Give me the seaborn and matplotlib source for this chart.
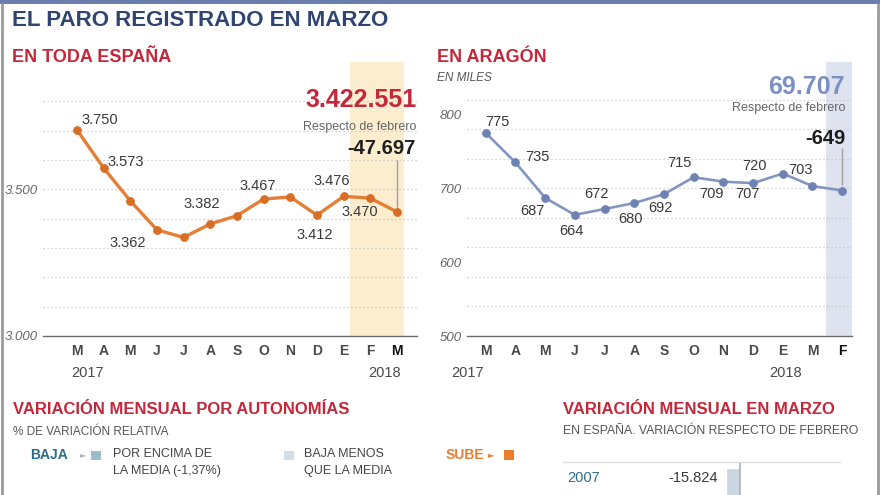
import matplotlib
matplotlib.use("Agg")
import matplotlib.pyplot as plt
import seaborn as sns
import pandas as pd
from matplotlib.patches import Rectangle
from matplotlib.lines import Line2D

# ---------------- data ----------------
months_espana = ["M", "A", "M", "J", "J", "A", "S", "O", "N", "D", "E", "F", "M"]
paro_espana = [3703, 3573, 3461, 3362, 3336, 3382, 3410, 3467, 3474, 3412, 3476, 3470, 3423]
labels_espana = ["3.750", "3.573", None, "3.362", None, "3.382", None, "3.467", None,
                 "3.412", "3.476", "3.470", None]
yticks_espana = [3000, 3500]
ytick_labels_espana = ["3.000", "3.500"]

months_aragon = ["M", "A", "M", "J", "J", "A", "S", "O", "N", "D", "E", "M", "F"]
paro_aragon = [775, 735, 687, 664, 672, 680, 692, 715, 709, 707, 720, 703, 697]
labels_aragon = ["775", "735", "687", "664", "672", "680", "692", "715", "709", "707",
                 "720", "703", None]
yticks_aragon = [500, 600, 700, 800]

total_espana = "3.422.551"
var_espana = "-47.697"
total_aragon = "69.707"
var_aragon = "-649"
media_autonomias = "-1,37%"

marzo_years = ["2007"]
marzo_var = [-15824]

# --------------- styles ---------------
offs_espana = [(5, 10, "left"), (4, 6, "left"), None, (-29, -13, "center"), None,
               (-9, 20, "center"), None, (-6, 13, "center"), None, (-2, -20, "center"),
               (-12, 15, "center"), (-11, -14, "center"), None]
offs_aragon = [(12, 11), (22, 5), (-13, -13), (-3, -16), (-8, 15), (-4, -16), (-4, -14),
               (-14, 14), (-12, -12), (-6, -11), (-28, 8), (-12, 16), None]

RED = "#c4263a"
NAVY = "#2f4470"
ORANGE = "#e47f35"
ORANGE_D = "#d86d25"
BLUE = "#8296c2"
BLUE_D = "#6f83b2"
TEAL = "#2b6d8c"
GRID = "#c4c4c4"
TXT = "#3a3a3a"

sns.set_theme(style="white")
plt.rcParams["font.family"] = ["Liberation Sans", "DejaVu Sans"]

W, H = 880, 495
fig = plt.figure(figsize=(W / 100, H / 100), dpi=100)
fig.patch.set_facecolor("white")


def fx(x):
    return x / W


def fy(y):
    return 1 - y / H


def ftext(x, y, s, **kw):
    kw.setdefault("va", "center")
    fig.text(fx(x), fy(y), s, **kw)


# frame
fig.add_artist(Rectangle((0, fy(4)), 1, 4 / H, color="#6a7eae", transform=fig.transFigure, lw=0))
fig.add_artist(Line2D([fx(2), fx(2)], [0, fy(4)], color="#9a9a9a", lw=2, transform=fig.transFigure))
fig.add_artist(Line2D([fx(878), fx(878)], [0, fy(4)], color="#9a9a9a", lw=2, transform=fig.transFigure))

# titles
ftext(12, 20, "EL PARO REGISTRADO EN MARZO", fontsize=16, fontweight="bold", color=NAVY)
ftext(12, 57, "EN TODA ESPAÑA", fontsize=13, fontweight="bold", color=RED)
ftext(437, 58, "EN ARAGÓN", fontsize=13, fontweight="bold", color=RED)
ftext(437, 78, "EN MILES", fontsize=8.5, fontstyle="italic", color="#555555")


def style_axes(ax, months, last_color):
    for s in ["top", "right", "left"]:
        ax.spines[s].set_visible(False)
    ax.spines["bottom"].set_color("#6a6a6a")
    ax.spines["bottom"].set_linewidth(1.0)
    ax.set_xticks(range(len(months)))
    ax.set_xticklabels(months, fontsize=10, fontweight="bold", color="#4a4a4a")
    ax.get_xticklabels()[-1].set_color(last_color)
    ax.tick_params(axis="x", length=0, pad=6)
    ax.tick_params(axis="y", length=0, pad=4)
    for t in ax.get_yticklabels():
        t.set_fontstyle("italic")
        t.set_fontsize(9.5)
        t.set_color("#666666")
    ax.set_xlabel("")
    ax.set_ylabel("")
    ax.set_facecolor("none")


# ---------------- left chart ----------------
ax1 = fig.add_axes([fx(43), fy(336), 374 / W, 274 / H])
df1 = pd.DataFrame({"idx": range(len(paro_espana)), "v": paro_espana})
ax1.axvspan(10.25, 12.25, color="#fcedcf", lw=0, zorder=0)
for v in range(3100, 3900, 100):
    ax1.axhline(v, color=GRID, lw=0.9, ls=(0, (1, 2.2)), zorder=1)
sns.lineplot(data=df1, x="idx", y="v", ax=ax1, color=ORANGE, lw=2.4, marker="o",
             markersize=5.5, markerfacecolor=ORANGE_D, markeredgecolor=ORANGE_D, zorder=3)
ax1.set_xlim(-1.27, 12.75)
ax1.set_ylim(3000, 3934)
ax1.set_yticks(yticks_espana)
ax1.set_yticklabels(ytick_labels_espana)
style_axes(ax1, months_espana, "#111111")
for i, (lab, off) in enumerate(zip(labels_espana, offs_espana)):
    if lab is None:
        continue
    ax1.annotate(lab, xy=(i, paro_espana[i]), xytext=(off[0], off[1]),
                 textcoords="offset pixels", ha=off[2], va="center",
                 fontsize=10.5, color=TXT, zorder=4)
ax1.vlines(len(paro_espana) - 1, paro_espana[-1] + 12, 3600, color="#a0a0a0", lw=1, zorder=2)
ax1.text(0.41, -0.135, "2017", transform=ax1.get_xaxis_transform(), ha="center", va="center",
         fontsize=10.5, color="#4a4a4a")
ax1.text(11.55, -0.135, "2018", transform=ax1.get_xaxis_transform(), ha="center", va="center",
         fontsize=10.5, color="#4a4a4a")

ftext(417, 100, total_espana, fontsize=18, fontweight="bold", color=RED, ha="right")
ftext(416, 127, "Respecto de febrero", fontsize=9, color="#666666", ha="right")
ftext(416, 149, var_espana, fontsize=14.5, fontweight="bold", color="#1e1e1e", ha="right")

# ---------------- right chart ----------------
ax2 = fig.add_axes([fx(467), fy(336), 385 / W, 274 / H])
df2 = pd.DataFrame({"idx": range(len(paro_aragon)), "v": paro_aragon})
ax2.axvspan(11.44, 12.4, color="#dfe3ef", lw=0, zorder=0)
for v in range(540, 860, 40):
    ax2.axhline(v, color=GRID, lw=0.9, ls=(0, (1, 2.2)), zorder=1)
sns.lineplot(data=df2, x="idx", y="v", ax=ax2, color=BLUE, lw=1.9, marker="o",
             markersize=5.5, markerfacecolor=BLUE_D, markeredgecolor=BLUE_D, zorder=3)
ax2.set_xlim(-0.63, 12.33)
ax2.set_ylim(500, 871)
ax2.set_yticks(yticks_aragon)
ax2.set_yticklabels([str(v) for v in yticks_aragon])
style_axes(ax2, months_aragon, "#111111")
for i, (lab, off) in enumerate(zip(labels_aragon, offs_aragon)):
    if lab is None:
        continue
    ax2.annotate(lab, xy=(i, paro_aragon[i]), xytext=off, textcoords="offset pixels",
                 ha="center", va="center", fontsize=10.5, color=TXT, zorder=4)
ax2.vlines(len(paro_aragon) - 1, paro_aragon[-1] + 8, 755, color="#a0a0a0", lw=1, zorder=2)
ax2.text(-0.6, -0.135, "2017", transform=ax2.get_xaxis_transform(), ha="center", va="center",
         fontsize=10.5, color="#4a4a4a")
ax2.text(10.08, -0.135, "2018", transform=ax2.get_xaxis_transform(), ha="center", va="center",
         fontsize=10.5, color="#4a4a4a")

ftext(845, 87, total_aragon, fontsize=18, fontweight="bold", color="#7c91c2", ha="right")
ftext(845, 108, "Respecto de febrero", fontsize=9, color="#666666", ha="right")
ftext(845, 139, var_aragon, fontsize=14.5, fontweight="bold", color="#1e1e1e", ha="right")

# ---------------- bottom section ----------------
ftext(13, 410, "VARIACIÓN MENSUAL POR AUTONOMÍAS", fontsize=12, fontweight="bold", color=RED)
ftext(13, 432, "% DE VARIACIÓN RELATIVA", fontsize=8.5, color="#555555")
ftext(30, 455, "BAJA", fontsize=10, fontweight="bold", color=TEAL)
ftext(80, 455, "►", fontsize=6, color="#b5b5b5", family=["DejaVu Sans"])
fig.add_artist(Rectangle((fx(91), fy(460)), 10 / W, 9 / H, color="#9bbccb", lw=0,
                         transform=fig.transFigure))
ftext(113, 454, "POR ENCIMA DE", fontsize=9, color="#444444")
ftext(113, 471, f"LA MEDIA ({media_autonomias})", fontsize=9, color="#444444")
fig.add_artist(Rectangle((fx(284), fy(460)), 10 / W, 9 / H, color="#d5dee6", lw=0,
                         transform=fig.transFigure))
ftext(304, 454, "BAJA MENOS", fontsize=9, color="#444444")
ftext(304, 471, "QUE LA MEDIA", fontsize=9, color="#444444")
ftext(446, 455, "SUBE", fontsize=10, fontweight="bold", color=ORANGE)
ftext(488, 455, "►", fontsize=6, color=ORANGE, family=["DejaVu Sans"])
fig.add_artist(Rectangle((fx(504), fy(460)), 10 / W, 10 / H, color="#ec7d2e", lw=0,
                         transform=fig.transFigure))

ftext(563, 410, "VARIACIÓN MENSUAL EN MARZO", fontsize=12, fontweight="bold", color=RED)
ftext(563, 431, "EN ESPAÑA. VARIACIÓN RESPECTO DE FEBRERO", fontsize=8.8, color="#555555")

ax3 = fig.add_axes([fx(563), 0, 277 / W, 33 / H])
df3 = pd.DataFrame({"year": marzo_years, "var": marzo_var})
sns.barplot(data=df3, x="var", y="year", orient="h", color="#cad6e0", ax=ax3, width=0.8,
            saturation=1)
ax3.set_xlim(-200000, 113000)
ax3.set_ylim(0.14, -0.52)
ax3.axvline(0, color="#b4b4b4", lw=1.3)
for s in ["right", "left", "bottom"]:
    ax3.spines[s].set_visible(False)
ax3.spines["top"].set_color("#dddddd")
ax3.spines["top"].set_linewidth(1)
ax3.set_xticks([])
ax3.set_yticks([])
ax3.set_xlabel("")
ax3.set_ylabel("")
ax3.set_facecolor("none")
for i, (yr, v) in enumerate(zip(marzo_years, marzo_var)):
    ax3.text(0.014, 0.5, yr, transform=ax3.transAxes, ha="left", va="center",
             fontsize=10.5, color=TEAL)
    ax3.annotate(f"{v:,}".replace(",", "."), xy=(v, i), xytext=(-8, 10),
                 textcoords="offset pixels", ha="right", va="center", fontsize=10.5, color=TXT)

fig.savefig("out.png", dpi=100, facecolor="white")
